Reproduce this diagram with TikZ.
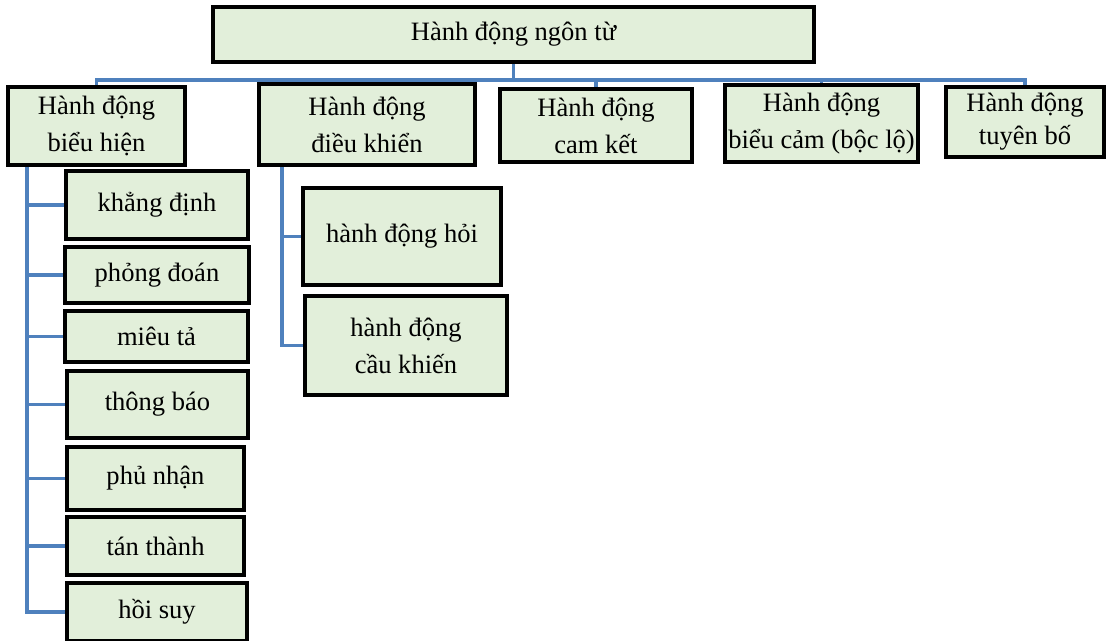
\documentclass[tikz,border=0pt]{standalone}
\usepackage{fontspec}
\setmainfont{Liberation Serif}
\usetikzlibrary{backgrounds}
\definecolor{boxfill}{HTML}{E2EFDA}
\definecolor{conncol}{HTML}{4F81BD}
\newcommand{\mybox}[6]{\node[bx, minimum width={(#4-#2)*0.75pt}, minimum height={(#5-#3)*0.75pt}] (#1) at ({(#2+#4)/2},{(#3+#5)/2}) {#6};}
\begin{document}
\begin{tikzpicture}[x=0.75pt,y=-0.75pt,
  bx/.style={draw=black, line width=2.4pt, fill=boxfill, inner sep=0pt, align=center,
     font=\fontsize{19.9pt}{27.7pt}\selectfont},
  conn/.style={draw=conncol, line width=2.4pt}]
\useasboundingbox (0,0) rectangle (1106,641);
\coordinate (bar) at (513.5,80);
\coordinate (lv) at (27,165);
\coordinate (rv) at (282,165);
% boxes
\mybox{top}{213}{7}{814}{62}{Hành động ngôn từ}
\mybox{bh}{8}{87}{185}{165}{Hành động\\biểu hiện}
\mybox{dk}{259}{84}{475}{165}{Hành động\\điều khiển}
\mybox{ck}{500}{89}{692}{162}{Hành động\\cam kết}
\mybox{bc}{725}{85}{918}{162}{Hành động\\biểu cảm (bộc lộ)}
\mybox{tb}{946}{87}{1104}{157}{\fontsize{19.9pt}{25pt}\selectfont\raisebox{-3pt}{Hành động}\\tuyên bố}
\mybox{kd}{66}{171}{248}{239}{khẳng định}
\mybox{pd}{65}{247}{249}{303}{phỏng đoán}
\mybox{mt}{65}{311}{248}{362}{miêu tả}
\mybox{tbao}{67}{371}{248}{438}{thông báo}
\mybox{pn}{67}{447}{244}{510}{phủ nhận}
\mybox{tt}{67}{517}{244}{575}{tán thành}
\mybox{hs}{67}{583}{247}{641}{hồi suy}
\mybox{hoi}{303}{188}{501}{285}{hành động hỏi}
\mybox{ckh}{305}{296}{507}{395}{hành động\\cầu khiến}
% connectors, behind the boxes
\begin{scope}[on background layer]
\draw[conn] (top.south) -- (bar);
\foreach \c in {bh,dk,ck,bc,tb} { \draw[conn] (bar) -| (\c.north); }
\foreach \c in {kd,pd,mt,tbao,pn,tt,hs} { \draw[conn] (lv) |- (\c.west); }
\foreach \c in {hoi,ckh} { \draw[conn] (rv) |- (\c.west); }
\end{scope}
\end{tikzpicture}
\end{document}
